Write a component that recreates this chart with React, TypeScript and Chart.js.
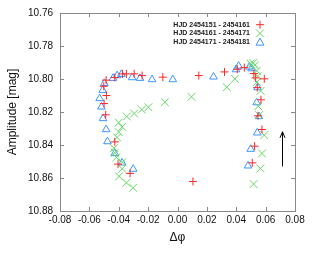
import React, { useEffect, useRef } from "react";
import { Chart, registerables } from "chart.js";
Chart.register(...registerables);

const xTicks = [-0.08, -0.06, -0.04, -0.02, 0.0, 0.02, 0.04, 0.06, 0.08];
const yTicks = [10.76, 10.78, 10.8, 10.82, 10.84, 10.86, 10.88];

const seriesLabels = [
  "HJD 2454151 - 2454161",
  "HJD 2454161 - 2454171",
  "HJD 2454171 - 2454181",
];

// [Δφ, amplitude]
const red: [number, number][] = [
  [-0.0486, 10.8007], [-0.0502, 10.8044], [-0.0484, 10.81], [-0.05, 10.8149],
  [-0.0489, 10.8217], [-0.0427, 10.8381], [-0.0405, 10.8516], [-0.0323, 10.8572],
  [0.0105, 10.8621], [-0.0427, 10.7991], [-0.0375, 10.7969], [-0.0348, 10.7969],
  [-0.0295, 10.7969], [-0.0241, 10.7979], [-0.01, 10.7989], [0.0145, 10.7979],
  [0.032, 10.7957], [0.0455, 10.7931], [0.0407, 10.7941], [0.052, 10.7967],
  [0.0532, 10.7993], [0.0591, 10.7999], [0.0543, 10.8052], [0.0568, 10.8126],
  [0.0548, 10.8223], [0.0575, 10.8306], [0.0525, 10.8407], [0.0509, 10.8508],
];

const green: [number, number][] = [
  [0.0498, 10.7907], [0.0516, 10.7903], [0.0527, 10.7917], [0.0539, 10.7951],
  [0.0545, 10.7983], [0.0541, 10.8018], [0.0566, 10.8072], [0.055, 10.8165],
  [0.0555, 10.8219], [0.0591, 10.834], [0.0575, 10.8451], [0.0564, 10.8542],
  [0.0518, 10.8637], [0.0391, 10.7999], [0.0336, 10.805], [0.0095, 10.8108],
  [-0.0086, 10.8141], [-0.0198, 10.8171], [-0.0243, 10.8185], [-0.0295, 10.8209],
  [-0.0345, 10.8227], [-0.04, 10.8264], [-0.0377, 10.829], [-0.04, 10.8322],
  [-0.0411, 10.8354], [-0.0432, 10.8419], [-0.0427, 10.8447], [-0.0416, 10.8475],
  [-0.0375, 10.8504], [-0.0377, 10.8544], [-0.0398, 10.859], [-0.0348, 10.8629],
  [-0.0302, 10.8659],
];

const blue: [number, number][] = [
  [-0.053, 10.8118], [-0.0518, 10.8169], [-0.0509, 10.8068], [-0.0498, 10.8026],
  [-0.0507, 10.8239], [-0.0486, 10.8306], [-0.0477, 10.8379], [-0.0427, 10.8451],
  [-0.0377, 10.8508], [-0.0302, 10.8546], [-0.0439, 10.7995], [-0.0411, 10.7979],
  [-0.0382, 10.7971], [-0.0309, 10.7991], [-0.0255, 10.7995], [-0.0173, 10.8003],
  [-0.0032, 10.8003], [0.0245, 10.7987], [0.0398, 10.7943], [0.0416, 10.7921],
  [0.0489, 10.7927], [0.0505, 10.7937], [0.0545, 10.8052], [0.0539, 10.8143],
  [0.0555, 10.8227], [0.0543, 10.8326], [0.0498, 10.8425], [0.048, 10.8526],
];

const arrowX = 0.0714;
const arrowFrom = 10.853;
const arrowTo = 10.832;

const RED = "rgb(255,40,40)";
const GREEN = "rgb(100,215,100)";
const BLUE = "rgb(60,150,255)";
const FONT = "'Liberation Sans', Arial, sans-serif";

const toPts = (a: [number, number][]) => a.map(([x, y]) => ({ x, y }));

const framePlugin = {
  id: "gnuFrame",
  beforeDatasetsDraw(chart: any) {
    const { ctx, chartArea: a, scales } = chart;
    const xs = scales.x, ys = scales.y;
    ctx.save();
    ctx.strokeStyle = "#888";
    ctx.lineWidth = 1;
    ctx.strokeRect(Math.round(a.left) + 0.5, Math.round(a.top) + 0.5, Math.round(a.right - a.left), Math.round(a.bottom - a.top));
    const tl = 4;
    ctx.beginPath();
    xTicks.forEach((v) => {
      const px = Math.round(xs.getPixelForValue(v)) + 0.5;
      ctx.moveTo(px, a.bottom);
      ctx.lineTo(px, a.bottom - tl);
      ctx.moveTo(px, a.top);
      ctx.lineTo(px, a.top + tl);
    });
    yTicks.forEach((v) => {
      const py = Math.round(ys.getPixelForValue(v)) + 0.5;
      ctx.moveTo(a.left, py);
      ctx.lineTo(a.left + tl, py);
      ctx.moveTo(a.right, py);
      ctx.lineTo(a.right - tl, py);
    });
    ctx.stroke();
    ctx.restore();
  },
  afterDraw(chart: any) {
    const { ctx, scales } = chart;
    const xs = scales.x, ys = scales.y;
    ctx.save();
    // arrow
    const ax = Math.round(xs.getPixelForValue(arrowX)) + 0.5;
    const y1 = ys.getPixelForValue(arrowFrom);
    const y2 = ys.getPixelForValue(arrowTo);
    ctx.strokeStyle = "#000";
    ctx.lineWidth = 1;
    ctx.beginPath();
    ctx.moveTo(ax, y1);
    ctx.lineTo(ax, y2);
    ctx.moveTo(ax - 2.5, y2 + 6);
    ctx.lineTo(ax, y2);
    ctx.lineTo(ax + 2.5, y2 + 6);
    ctx.stroke();
    // legend
    const rows = [24.7, 33.4, 42.2];
    const colors = [RED, GREEN, BLUE];
    const tx = 250;
    const mx = 260;
    ctx.font = `bold 7px ${FONT}`;
    ctx.textAlign = "right";
    ctx.textBaseline = "middle";
    rows.forEach((ry, i) => {
      ctx.fillStyle = "#222";
      ctx.fillText(seriesLabels[i], tx, ry);
      ctx.strokeStyle = colors[i];
      ctx.lineWidth = 1;
      ctx.beginPath();
      if (i === 0) {
        ctx.moveTo(mx - 4, ry); ctx.lineTo(mx + 4, ry);
        ctx.moveTo(mx, ry - 4); ctx.lineTo(mx, ry + 4);
      } else if (i === 1) {
        ctx.moveTo(mx - 4, ry - 4); ctx.lineTo(mx + 4, ry + 4);
        ctx.moveTo(mx - 4, ry + 4); ctx.lineTo(mx + 4, ry - 4);
      } else {
        ctx.moveTo(mx - 4, ry + 3); ctx.lineTo(mx, ry - 4); ctx.lineTo(mx + 4, ry + 3); ctx.closePath();
      }
      ctx.stroke();
    });
    ctx.restore();
  },
};

export default function App() {
  const ref = useRef<HTMLCanvasElement>(null);
  useEffect(() => {
    document.body.style.margin = "0";
    const chart = new Chart(ref.current!, {
      type: "scatter",
      data: {
        datasets: [
          { label: seriesLabels[0], data: toPts(red), pointStyle: "cross", pointRadius: 4, borderColor: RED, borderWidth: 1, backgroundColor: RED },
          { label: seriesLabels[1], data: toPts(green), pointStyle: "crossRot", pointRadius: 5.5, borderColor: GREEN, borderWidth: 1, backgroundColor: GREEN },
          { label: seriesLabels[2], data: toPts(blue), pointStyle: "triangle", pointRadius: 4.4, borderColor: BLUE, borderWidth: 1, backgroundColor: "rgba(0,0,0,0)" },
        ],
      },
      options: {
        animation: false,
        responsive: false,
        events: [],
        layout: { padding: { left: 0, right: 17, top: 13, bottom: 18 } },
        plugins: { legend: { display: false }, tooltip: { enabled: false } },
        scales: {
          x: {
            type: "linear",
            min: -0.08,
            max: 0.08,
            grid: { display: false, drawTicks: false },
            border: { display: false },
            afterBuildTicks: (s: any) => { s.ticks = xTicks.map((v) => ({ value: v })); },
            afterFit: (s: any) => { s.height = 34; },
            ticks: {
              padding: 3,
              maxRotation: 0,
              autoSkip: false,
              color: "#111",
              font: { family: FONT, size: 10 },
              callback: (v: any) => Number(v).toFixed(2),
            },
            title: { display: true, text: "Δφ", color: "#111", font: { family: FONT, size: 12 }, padding: { top: 0, bottom: 0 } },
          },
          y: {
            type: "linear",
            reverse: true,
            min: 10.76,
            max: 10.88,
            grid: { display: false, drawTicks: false },
            border: { display: false },
            afterBuildTicks: (s: any) => { s.ticks = yTicks.map((v) => ({ value: v })); },
            afterFit: (s: any) => { s.width = 60; },
            ticks: {
              padding: 7,
              autoSkip: false,
              color: "#111",
              font: { family: FONT, size: 10 },
              callback: (v: any) => Number(v).toFixed(2),
            },
            title: { display: true, text: "Amplitude [mag]", color: "#111", font: { family: FONT, size: 12 }, padding: { top: 5, bottom: 0 } },
          },
        },
      },
      plugins: [framePlugin],
    });
    return () => chart.destroy();
  }, []);
  return (
    <div style={{ width: 312, height: 263 }}>
      <canvas ref={ref} width={312} height={263} />
    </div>
  );
}
